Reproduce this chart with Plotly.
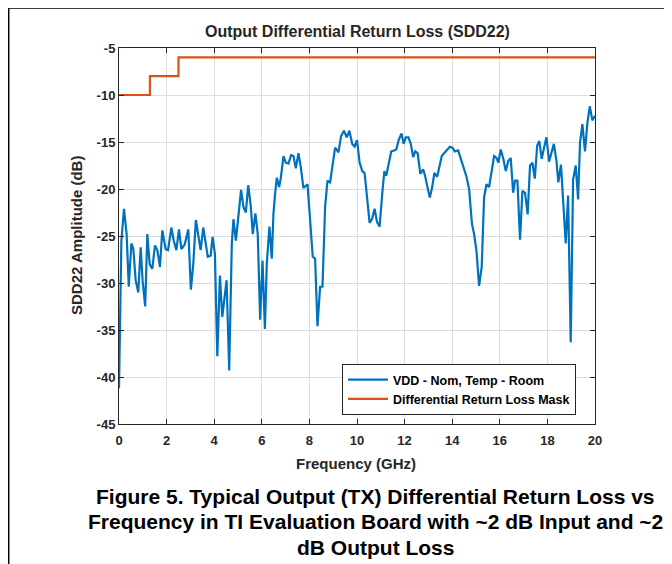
import plotly.graph_objects as go

freq_ghz = [0.0, 0.1, 0.21, 0.32, 0.41, 0.52, 0.60, 0.70, 0.81, 0.91, 0.99, 1.10, 1.19, 1.29, 1.40, 1.51, 1.61, 1.72, 1.82, 1.96,
            2.06, 2.20, 2.30, 2.41, 2.52, 2.62, 2.76, 2.91, 3.02, 3.12, 3.23, 3.33, 3.43, 3.54, 3.64, 3.73, 3.85, 3.93,
            4.03, 4.13, 4.24, 4.34, 4.52, 4.63, 4.74, 4.81, 4.91, 5.02, 5.13, 5.23, 5.33, 5.43, 5.54, 5.62, 5.73, 5.83,
            5.93, 6.03, 6.13, 6.21, 6.32, 6.42, 6.49, 6.56, 6.63, 6.73, 6.80, 6.91, 7.01, 7.12, 7.23, 7.33, 7.43, 7.54,
            7.64, 7.75, 7.92, 8.03, 8.14, 8.24, 8.34, 8.45, 8.55, 8.66, 8.76, 8.87, 9.01, 9.08, 9.22, 9.33, 9.45, 9.57,
            9.68, 9.80, 9.90, 10.00, 10.11, 10.22, 10.32, 10.42, 10.53, 10.63, 10.74, 10.84, 10.95, 11.07, 11.15, 11.23,
            11.35, 11.44, 11.56, 11.65, 11.75, 11.87, 11.96, 12.05, 12.16, 12.26, 12.36, 12.45, 12.55, 12.66, 12.78,
            12.86, 12.96, 13.06, 13.16, 13.25, 13.37, 13.45, 13.56, 13.66, 13.76, 13.90, 14.01, 14.11, 14.25, 14.32,
            14.46, 14.60, 14.71, 14.83, 14.92, 15.02, 15.13, 15.24, 15.34, 15.44, 15.55, 15.66, 15.76, 15.86, 15.94,
            16.04, 16.15, 16.25, 16.36, 16.46, 16.56, 16.64, 16.74, 16.85, 16.95, 17.06, 17.17, 17.27, 17.37, 17.47,
            17.57, 17.66, 17.76, 17.86, 17.96, 18.07, 18.17, 18.27, 18.38, 18.46, 18.57, 18.67, 18.77, 18.87, 18.98,
            19.08, 19.19, 19.29, 19.37, 19.47, 19.58, 19.68, 19.78, 19.89, 20.00]

sdd22_db = [-41.2, -25.5, -22.1, -24.8, -30.4, -25.8, -26.3, -29.7, -31.0, -26.2, -29.7, -32.5, -24.8, -28.0, -28.5, -26.0, -26.5, -28.3, -24.4, -26.4,
            -26.5, -24.1, -25.5, -26.5, -24.3, -26.4, -25.9, -24.3, -30.7, -28.0, -23.3, -25.1, -26.5, -24.1, -25.6, -27.2, -27.1, -25.1,
            -26.9, -37.8, -29.2, -33.6, -29.7, -39.3, -25.8, -23.2, -25.5, -22.7, -20.1, -21.9, -22.5, -19.6, -21.9, -24.8, -22.6, -24.8,
            -33.9, -27.6, -34.9, -27.9, -24.0, -27.4, -22.6, -20.5, -18.8, -19.8, -18.8, -16.5, -17.2, -17.3, -16.4, -16.5, -17.8, -16.2,
            -17.7, -19.9, -19.5, -23.3, -27.2, -27.4, -34.6, -30.4, -30.4, -21.9, -19.1, -19.3, -17.0, -15.6, -16.1, -14.4, -13.8, -14.5,
            -13.8, -15.2, -15.5, -14.8, -17.2, -18.1, -18.3, -20.9, -23.6, -23.2, -22.1, -23.5, -24.0, -20.2, -18.1, -18.6,
            -17.2, -16.0, -15.9, -15.8, -14.8, -14.1, -15.2, -14.5, -14.5, -15.2, -16.6, -16.0, -16.2, -18.4, -17.9,
            -18.6, -19.8, -20.9, -19.8, -18.3, -18.7, -17.9, -16.5, -16.2, -15.9, -15.5, -15.6, -16.0, -15.9, -16.5,
            -17.6, -18.7, -20.0, -23.7, -24.8, -26.6, -30.3, -28.3, -20.9, -19.5, -19.8, -18.1, -16.5, -16.7, -17.2,
            -15.8, -16.8, -18.1, -17.0, -16.7, -20.4, -19.1, -19.1, -25.4, -20.2, -20.4, -22.7, -17.5, -17.2, -18.9,
            -15.4, -14.9, -16.8, -15.6, -14.5, -17.1, -16.1, -15.2, -17.0, -19.3, -17.4, -21.4, -25.8, -20.7, -36.3,
            -19.0, -17.5, -21.1, -15.1, -13.1, -16.0, -13.0, -11.2, -12.7, -12.2]

mask_freq_ghz = [0.0, 1.3, 2.5, 20.0]
mask_db = [-10, -8, -6, -6]

x_ticks = [0, 2, 4, 6, 8, 10, 12, 14, 16, 18, 20]
y_ticks = [-5, -10, -15, -20, -25, -30, -35, -40, -45]

title_text = "Output Differential Return Loss (SDD22)"
x_title = "Frequency (GHz)"
y_title = "SDD22 Amplitude (dB)"
series_names = ["VDD - Nom, Temp - Room", "Differential Return Loss Mask"]
caption_lines = ["Figure 5. Typical Output (TX) Differential Return Loss vs",
                 "Frequency in TI Evaluation Board with ~2 dB Input and ~2",
                 "dB Output Loss"]

FONT = "Liberation Sans, Arial, sans-serif"
INK = "#262626"

# The page body has an 8px margin: figure pixel = reference pixel - 8
OFF = 8
W, H = 664, 556
L, R, T, B = 111, 77, 40, 140
pw = W - L - R
ph = H - T - B

def px(x):  # reference x pixel -> paper x
    return (x - OFF - L) / pw

def py(y):  # reference y pixel -> paper y
    return (H - B - (y - OFF)) / ph

fig = go.Figure()
fig.add_trace(go.Scatter(x=freq_ghz, y=sdd22_db, mode="lines", name="<b>" + series_names[0] + "</b>",
                         line=dict(color="#0072BD", width=2.2)))
fig.add_trace(go.Scatter(x=mask_freq_ghz, y=mask_db, mode="lines", name="<b>" + series_names[1] + "</b>",
                         line=dict(color="#D95319", width=2.2, shape="hv")))

axis_common = dict(showgrid=True, gridcolor="#dcdcdc", gridwidth=1, zeroline=False,
                   showline=True, linecolor=INK, linewidth=1, mirror="ticks",
                   ticks="inside", ticklen=5, tickcolor=INK,
                   tickfont=dict(family=FONT, size=13, color=INK))

fig.update_layout(
    width=W, height=H,
    margin=dict(l=L, r=R, t=T, b=B),
    paper_bgcolor="white", plot_bgcolor="white",
    font=dict(family=FONT, color=INK),
    xaxis=dict(range=[0, 20], tickvals=x_ticks, ticktext=["<b>%d</b>" % v for v in x_ticks],
               ticklabelstandoff=4, **axis_common),
    yaxis=dict(range=[-45, -5], tickvals=y_ticks, ticktext=["<b>%d</b>" % v for v in y_ticks], **axis_common),
    legend=dict(x=px(576), xanchor="right", y=py(415), yanchor="bottom",
                bgcolor="white", bordercolor=INK, borderwidth=1,
                font=dict(size=12.5, family=FONT, color="black"),
                tracegroupgap=0, itemwidth=40),
    showlegend=True,
)

def text_at(text, x, y, size, angle=0, color=INK):
    fig.add_annotation(text="<b>" + text + "</b>", xref="paper", yref="paper",
                       x=px(x), y=py(y), xanchor="center", yanchor="middle",
                       showarrow=False, textangle=angle,
                       font=dict(size=size, family=FONT, color=color))

text_at(title_text, 357, 32, 16)
text_at(x_title, 356, 463, 15)
text_at(y_title, 76, 236, 15, angle=-90)
for line, yy in zip(caption_lines, [496, 521, 547]):
    text_at(line, 375, yy, 21, color="black")

# page border lines
fig.add_shape(type="line", xref="paper", yref="paper",
              x0=px(8), x1=px(672), y0=py(8), y1=py(8), line=dict(color="black", width=1.5))
fig.add_shape(type="line", xref="paper", yref="paper",
              x0=px(8.7), x1=px(8.7), y0=py(8), y1=py(564), line=dict(color="black", width=1.5))

fig.write_html("out.html")
